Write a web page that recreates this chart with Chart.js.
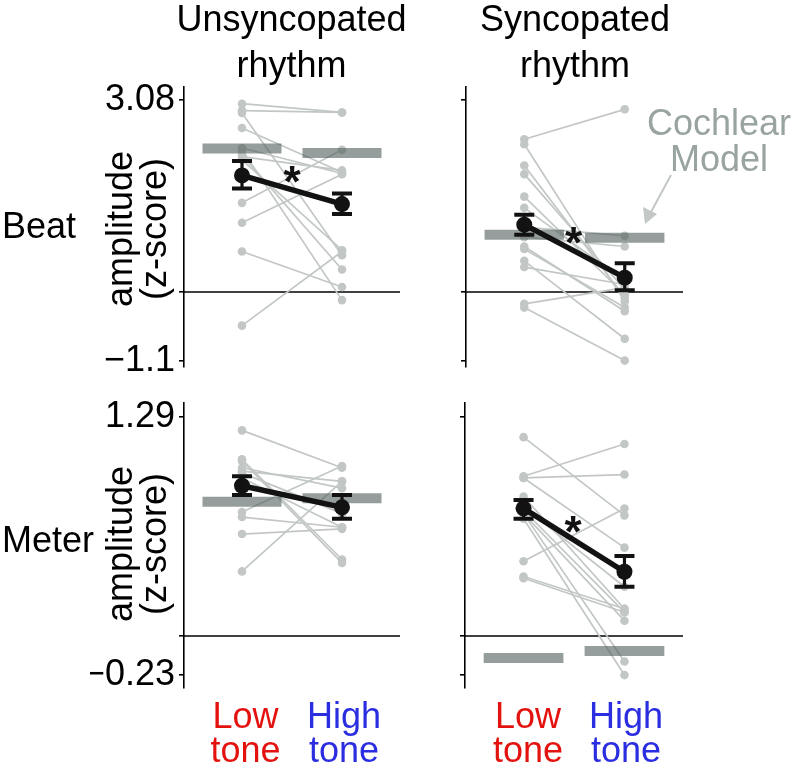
<!DOCTYPE html>
<html><head><meta charset="utf-8">
<script src="https://cdn.jsdelivr.net/npm/chart.js@4.4.0/dist/chart.umd.min.js"></script>
<style>
html,body{margin:0;padding:0;background:#fff;}
body{width:793px;height:773px;overflow:hidden;position:relative;font-family:"Liberation Sans",Arial,Helvetica,sans-serif;}
.t{position:absolute;font-size:36px;line-height:36px;color:#000;white-space:nowrap;z-index:5;}
.c{transform:translateX(-50%);}
.rot{position:absolute;font-size:36px;line-height:34px;color:#000;white-space:nowrap;text-align:center;transform:translate(-50%,-50%) rotate(-90deg);z-index:5;}
canvas{position:absolute;}
svg{position:absolute;left:0;top:0;z-index:4;}
</style></head><body>

<div class="t c" style="left:291.5px;top:1px;">Unsyncopated</div>
<div class="t c" style="left:291.5px;top:46.5px;">rhythm</div>
<div class="t c" style="left:575px;top:1px;">Syncopated</div>
<div class="t c" style="left:575px;top:46.5px;">rhythm</div>

<div class="t" style="left:2px;top:207.5px;">Beat</div>
<div class="t" style="left:2px;top:521.5px;">Meter</div>

<div class="rot" style="left:136.5px;top:229px;">amplitude<br>(z-score)</div>
<div class="rot" style="left:136.5px;top:544px;">amplitude<br>(z-score)</div>

<div class="t c" style="left:245.5px;top:697.5px;color:#e3120f;">Low</div>
<div class="t c" style="left:245.5px;top:731.5px;color:#e3120f;">tone</div>
<div class="t c" style="left:344px;top:697.5px;color:#2b2de0;">High</div>
<div class="t c" style="left:344px;top:731.5px;color:#2b2de0;">tone</div>
<div class="t c" style="left:528px;top:697.5px;color:#e3120f;">Low</div>
<div class="t c" style="left:528px;top:731.5px;color:#e3120f;">tone</div>
<div class="t c" style="left:626px;top:697.5px;color:#2b2de0;">High</div>
<div class="t c" style="left:626px;top:731.5px;color:#2b2de0;">tone</div>

<div class="t c" style="left:719px;top:104.5px;color:#99a39f;">Cochlear</div>
<div class="t c" style="left:719px;top:141px;color:#99a39f;">Model</div>

<svg width="793" height="773">
  <line x1="671" y1="175" x2="651" y2="212" stroke="#c3c7c6" stroke-width="2"/>
  <polygon points="645,224 643,207 657,214" fill="#c3c7c6"/>
</svg>

<canvas id="tl" width="320" height="340" style="left:90px;top:57px;"></canvas>
<canvas id="tr" width="263" height="340" style="left:430px;top:57px;"></canvas>
<canvas id="bl" width="320" height="345" style="left:90px;top:373px;"></canvas>
<canvas id="br" width="263" height="345" style="left:430px;top:373px;"></canvas>

<script>
// ---------- data ----------
const categories = ['Low tone', 'High tone'];
const xPos = [1, 2];

// Beat, unsyncopated rhythm (individual subjects)
const beatUnsyncLow  = [3.02, 2.91, 2.87, 2.63, 2.31, 2.28, 2.20, 2.12, 1.43, 1.11, 0.65, -0.54, 2.17];
const beatUnsyncHigh = [2.88, 2.88, 0.59, 1.92, 1.90, -0.13, 0.36, 0.67, 2.28, 1.89, 0.08, 0.65, 1.95];
const beatUnsyncMean  = [1.87, 1.41];
const beatUnsyncUpper = [2.10, 1.58];
const beatUnsyncLower = [1.66, 1.25];
const beatUnsyncCochlear = [2.30, 2.23];

// Beat, syncopated rhythm
const beatSyncLow  = [2.45, 2.37, 2.03, 1.89, 1.53, 1.35, 1.04, 0.88, 0.73, 0.69, 0.50, 0.40, -0.19, -0.25];
const beatSyncHigh = [2.93, -0.15, -0.09, 0.04, -0.04, 0.18, 0.90, 0.73, -0.31, -0.25, -0.75, 0.12, 0.07, -1.10];
const beatSyncMean  = [1.08, 0.23];
const beatSyncUpper = [1.24, 0.46];
const beatSyncLower = [0.92, 0.03];
const beatSyncCochlear = [0.92, 0.87];

// Meter, unsyncopated rhythm
const meterUnsyncLow  = [1.21, 1.04, 1.03, 0.99, 0.96, 0.93, 0.73, 0.70, 0.60, 0.38, 0.97, 0.89];
const meterUnsyncHigh = [0.99, 0.45, 0.43, 0.87, 0.72, 0.64, 1.00, 0.64, 0.63, 0.91, 0.91, 0.76];
const meterUnsyncMean  = [0.884, 0.757];
const meterUnsyncUpper = [0.94, 0.83];
const meterUnsyncLower = [0.83, 0.69];
const meterUnsyncCochlear = [0.79, 0.81];

// Meter, syncopated rhythm
const meterSyncLow  = [1.17, 0.94, 0.93, 0.93, 0.82, 0.74, 0.72, 0.72, 0.69, 0.44, 0.35, 0.34, 0.76];
const meterSyncHigh = [0.71, 1.13, 0.95, 0.52, 0.16, 0.14, 0.09, -0.15, -0.23, 0.75, 0.16, 0.14, 0.29];
const meterSyncMean  = [0.751, 0.378];
const meterSyncUpper = [0.80, 0.47];
const meterSyncLower = [0.69, 0.29];
const meterSyncCochlear = [-0.13, -0.088];

// significance stars (x, y in data units)
const beatUnsyncStar = {x: 1.50, y: 1.93};
const beatSyncStar   = {x: 1.49, y: 0.94};
const meterSyncStar  = {x: 1.49, y: 0.67};

// axis ticks
const beatTicks = [-1.1, 0, 3.08];
const beatTickLabels = ['\u22121.1', '', '3.08'];
const meterTicks = [-0.23, 0, 1.29];
const meterTickLabels = ['\u22120.23', '', '1.29'];
const beatRange = [-1.203, 3.288];
const meterRange = [-0.306, 1.371];
const xRange = [0.42, 2.58];

// ---------- styling ----------
const FONT = '"Liberation Sans", Arial, Helvetica, sans-serif';
const SUBJ = '#c2c7c6';
const COCH = 'rgba(78,94,90,0.6)';
const MEANC = '#121212';
const COCH_HALF = 0.395;

const extras = {
  id: 'extras',
  afterDatasetsDraw(chart, args, opts) {
    const ctx = chart.ctx, x = chart.scales.x, y = chart.scales.y;
    ctx.save();
    ctx.strokeStyle = MEANC;
    opts.mean.forEach((m, i) => {
      const px = x.getPixelForValue(xPos[i]);
      const pu = y.getPixelForValue(opts.upper[i]);
      const pl = y.getPixelForValue(opts.lower[i]);
      ctx.lineWidth = 3.2;
      ctx.beginPath(); ctx.moveTo(px, pu); ctx.lineTo(px, pl); ctx.stroke();
      ctx.lineWidth = 4;
      ctx.beginPath();
      ctx.moveTo(px - 10, pu); ctx.lineTo(px + 10, pu);
      ctx.moveTo(px - 10, pl); ctx.lineTo(px + 10, pl);
      ctx.stroke();
    });
    if (opts.star) {
      ctx.fillStyle = MEANC;
      ctx.font = 'bold 44px ' + FONT;
      ctx.textAlign = 'center';
      ctx.textBaseline = 'alphabetic';
      ctx.fillText('*', x.getPixelForValue(opts.star.x), y.getPixelForValue(opts.star.y) + 25);
    }
    ctx.restore();
  }
};

function makePanel(id, p) {
  const datasets = [];
  // mean line
  datasets.push({
    data: p.mean.map((v, i) => ({x: xPos[i], y: v})),
    showLine: true, borderColor: MEANC, borderWidth: 5.5,
    pointRadius: 8, pointBackgroundColor: MEANC, pointBorderWidth: 0, order: 0
  });
  // cochlear model bars
  p.coch.forEach((v, i) => {
    datasets.push({
      data: [{x: xPos[i] - COCH_HALF, y: v}, {x: xPos[i] + COCH_HALF, y: v}],
      showLine: true, borderColor: COCH, borderWidth: 10, borderCapStyle: 'butt',
      pointRadius: 0, order: 1
    });
  });
  // subjects
  p.low.forEach((v, i) => {
    datasets.push({
      data: [{x: xPos[0], y: v}, {x: xPos[1], y: p.high[i]}],
      showLine: true, borderColor: SUBJ, borderWidth: 1.7,
      pointRadius: 4.3, pointBackgroundColor: SUBJ, pointBorderWidth: 0, order: 2
    });
  });
  // zero line
  datasets.push({
    data: [{x: xRange[0], y: 0}, {x: xRange[1], y: 0}],
    showLine: true, borderColor: '#000', borderWidth: 1.6, pointRadius: 0, order: 3
  });

  return new Chart(document.getElementById(id), {
    type: 'scatter',
    data: {datasets},
    options: {
      responsive: false, animation: false, devicePixelRatio: 1,
      layout: {padding: p.pad},
      plugins: {
        legend: {display: false}, tooltip: {enabled: false},
        extras: {mean: p.mean, upper: p.upper, lower: p.lower, star: p.star}
      },
      scales: {
        x: {type: 'linear', min: xRange[0], max: xRange[1], display: false},
        y: {
          type: 'linear', min: p.range[0], max: p.range[1],
          afterBuildTicks: s => { s.ticks = p.ticks.map(v => ({value: v})); },
          afterFit: s => { s.width = p.yw; },
          ticks: {
            autoSkip: false, padding: 4, color: '#000',
            font: {size: 36, family: FONT},
            callback: (v, i) => p.labels ? p.labels[i] : ''
          },
          grid: {drawOnChartArea: false, drawTicks: true, tickLength: 5, color: '#000', lineWidth: 1.6},
          border: {display: true, color: '#000', width: 1.6}
        }
      }
    },
    plugins: [extras]
  });
}

makePanel('tl', {low: beatUnsyncLow, high: beatUnsyncHigh, mean: beatUnsyncMean, upper: beatUnsyncUpper,
  lower: beatUnsyncLower, coch: beatUnsyncCochlear, star: beatUnsyncStar, ticks: beatTicks, labels: beatTickLabels,
  range: beatRange, yw: 94, pad: {top: 30, bottom: 30, right: 10, left: 0}});
makePanel('tr', {low: beatSyncLow, high: beatSyncHigh, mean: beatSyncMean, upper: beatSyncUpper,
  lower: beatSyncLower, coch: beatSyncCochlear, star: beatSyncStar, ticks: beatTicks, labels: null,
  range: beatRange, yw: 36, pad: {top: 30, bottom: 30, right: 10, left: 0}});
makePanel('bl', {low: meterUnsyncLow, high: meterUnsyncHigh, mean: meterUnsyncMean, upper: meterUnsyncUpper,
  lower: meterUnsyncLower, coch: meterUnsyncCochlear, star: null, ticks: meterTicks, labels: meterTickLabels,
  range: meterRange, yw: 94, pad: {top: 30, bottom: 30, right: 10, left: 0}});
makePanel('br', {low: meterSyncLow, high: meterSyncHigh, mean: meterSyncMean, upper: meterSyncUpper,
  lower: meterSyncLower, coch: meterSyncCochlear, star: meterSyncStar, ticks: meterTicks, labels: null,
  range: meterRange, yw: 35, pad: {top: 30, bottom: 30, right: 10, left: 0}});
</script>
</body></html>
